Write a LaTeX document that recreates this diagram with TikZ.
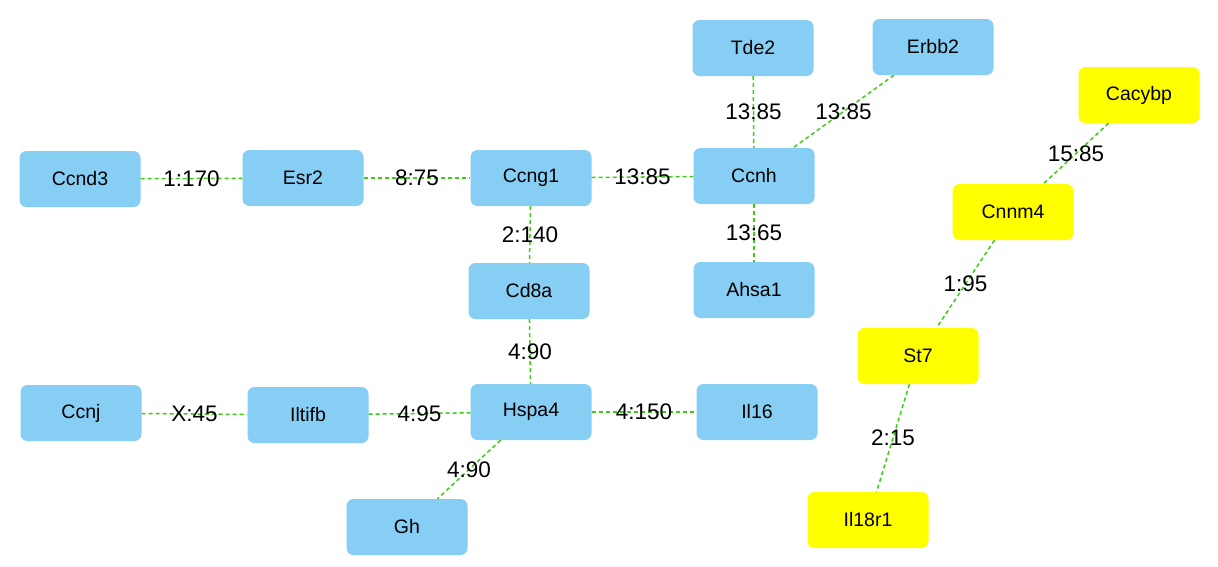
\documentclass[tikz,border=0pt]{standalone}
\usepackage{fontspec}
\setmainfont{Liberation Sans}
\definecolor{nblue}{RGB}{135,206,245}
\definecolor{nyellow}{RGB}{255,255,0}
\definecolor{egreen}{RGB}{60,205,20}
\tikzset{
  gene/.style={rectangle, rounded corners=7pt, minimum width=121pt, minimum height=56pt, inner sep=0pt, fill=nblue, font=\fontsize{19.5pt}{22pt}\selectfont},
  ygene/.style={gene, fill=nyellow},
  edge/.style={draw=egreen, line width=1.5pt, dash pattern=on 4pt off 3pt},
  lbl/.style={font=\fontsize{22.5pt}{26pt}\selectfont, inner sep=0pt}
}
\begin{document}
\begin{tikzpicture}[x=1pt,y=-1pt]
\useasboundingbox (0,0) rectangle (1218,566);
\node[gene] (ccnd3) at (80,179) {Ccnd3};
\node[gene] (esr2) at (303,178) {Esr2};
\node[gene] (ccng1) at (531,178) {Ccng1};
\node[gene] (ccnh) at (754,176) {Ccnh};
\node[gene] (tde2) at (753,48) {Tde2};
\node[gene] (erbb2) at (933,47) {Erbb2};
\node[ygene] (cacybp) at (1139,95) {Cacybp};
\node[ygene] (cnnm4) at (1013,212) {Cnnm4};
\node[gene] (cd8a) at (529,291) {Cd8a};
\node[gene] (ahsa1) at (754,290) {Ahsa1};
\node[ygene] (st7) at (918,356) {St7};
\node[gene] (ccnj) at (81,413) {Ccnj};
\node[gene] (iltifb) at (308,415) {Iltifb};
\node[gene] (hspa4) at (531,412) {Hspa4};
\node[gene] (il16) at (757,412) {Il16};
\node[gene] (gh) at (407,527) {Gh};
\node[ygene] (il18r1) at (868,520) {Il18r1};

\draw[edge] (ccnd3) -- node[lbl]{1:170} (esr2);
\draw[edge] (esr2) -- node[lbl]{8:75} (ccng1);
\draw[edge] (ccng1) -- node[lbl]{13:85} (ccnh);
\draw[edge] (tde2) -- node[lbl]{13:85} (ccnh);
\draw[edge] (erbb2) -- node[lbl]{13:85} (ccnh);
\draw[edge] (ccnh) -- node[lbl]{13:65} (ahsa1);
\draw[edge] (ccng1) -- node[lbl]{2:140} (cd8a);
\draw[edge] (cd8a) -- node[lbl]{4:90} (hspa4);
\draw[edge] (ccnj) -- node[lbl]{X:45} (iltifb);
\draw[edge] (iltifb) -- node[lbl]{4:95} (hspa4);
\draw[edge] (hspa4) -- node[lbl]{4:150} (il16);
\draw[edge] (hspa4) -- node[lbl]{4:90} (gh);
\draw[edge] (cacybp) -- node[lbl]{15:85} (cnnm4);
\draw[edge] (cnnm4) -- node[lbl]{1:95} (st7);
\draw[edge] (st7) -- node[lbl]{2:15} (il18r1);
\end{tikzpicture}
\end{document}
